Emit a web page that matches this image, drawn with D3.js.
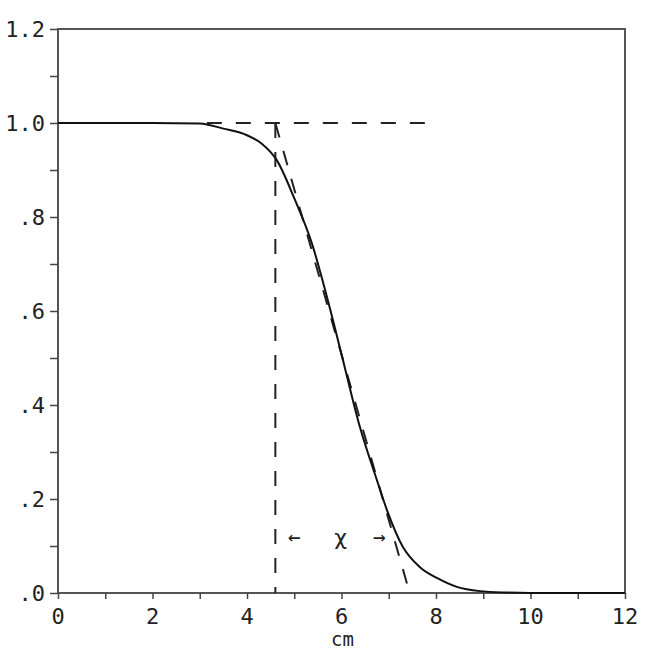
<!DOCTYPE html>
<html>
<head>
<meta charset="utf-8">
<script src="https://cdn.jsdelivr.net/npm/d3@7"></script>
<style>
html,body{margin:0;padding:0;background:#fff;}
svg{display:block;}
text{font-family:"DejaVu Sans Mono",monospace;fill:#222;}
</style>
</head>
<body>
<svg id="chart" width="649" height="658"></svg>
<script>
// Data
const curveX = [0, 1, 2, 3, 3.5, 4.0, 4.3, 4.63, 5.0, 5.37, 5.71, 6.03, 6.39, 6.75, 6.96, 7.3, 7.66, 8.02, 8.44, 8.93, 9.5, 10, 11, 12];
const curveY = [1, 1, 1, 0.999, 0.988, 0.974, 0.957, 0.921, 0.84, 0.745, 0.623, 0.496, 0.353, 0.24, 0.177, 0.098, 0.055, 0.032, 0.013, 0.004, 0.001, 0, 0, 0];
const xTicks = [0, 2, 4, 6, 8, 10, 12];
const xMinorTicks = [0,1,2,3,4,5,6,7,8,9,10,11,12];
const yTicks = [0, 0.2, 0.4, 0.6, 0.8, 1.0, 1.2];
const yTickLabels = [".0", ".2", ".4", ".6", ".8", "1.0", "1.2"];
const yMinorTicks = [0,0.1,0.2,0.3,0.4,0.5,0.6,0.7,0.8,0.9,1.0,1.1,1.2];
const plateauLine = {x: [3.15, 7.77], y: [1.0, 1.0]};
const edgeLine = {x: [4.6, 4.6], y: [1.0, 0.0]};
const tangentLine = {x: [4.6, 7.4], y: [1.0, 0.015]};
const chiLabel = {x1: 5.0, x: 5.98, x2: 6.8, y: 0.12, text: "χ"};
const xTitle = "cm";

const svg = d3.select("#chart");
const margin = {left: 58, right: 24, top: 29, bottom: 65};
const W = 649, H = 658;
const x = d3.scaleLinear().domain([0, 12]).range([margin.left, W - margin.right]);
const y = d3.scaleLinear().domain([0, 1.2]).range([H - margin.bottom, margin.top]);

// frame
svg.append("rect")
  .attr("x", x(0)).attr("y", y(1.2))
  .attr("width", x(12) - x(0)).attr("height", y(0) - y(1.2))
  .attr("fill", "none").attr("stroke", "#555").attr("stroke-width", 2);

// x axis ticks
const xAxis = d3.axisBottom(x).tickValues(xMinorTicks).tickSize(6).tickFormat("");
const gx = svg.append("g").attr("transform", `translate(0,${y(0)})`).call(xAxis);
gx.select(".domain").remove();
gx.selectAll("line").attr("stroke", "#444").attr("stroke-width", 1.5);
svg.append("g").selectAll("text").data(xTicks).join("text")
  .attr("x", d => x(d)).attr("y", y(0) + 31)
  .attr("text-anchor", "middle")
  .attr("font-size", 22)
  .text(d => d3.format("d")(d));

// y axis ticks
const yAxis = d3.axisLeft(y).tickValues(yMinorTicks).tickSize(8).tickFormat("");
const gy = svg.append("g").attr("transform", `translate(${x(0)},0)`).call(yAxis);
gy.select(".domain").remove();
gy.selectAll("line").attr("stroke", "#444").attr("stroke-width", 1.5);
svg.append("g").selectAll("text").data(yTicks).join("text")
  .attr("x", x(0) - 13).attr("y", d => y(d) + 8)
  .attr("text-anchor", "end")
  .attr("font-size", 22)
  .text((d, i) => yTickLabels[i]);

// x title
svg.append("text").attr("x", (x(0) + x(12)) / 2 + 1).attr("y", H - 12)
  .attr("text-anchor", "middle").attr("font-size", 19).text(xTitle);

// dashed lines
const lineGen = d3.line().x(d => x(d[0])).y(d => y(d[1]));
[plateauLine, edgeLine, tangentLine].forEach(l => {
  svg.append("path")
    .attr("d", lineGen(d3.zip(l.x, l.y)))
    .attr("fill", "none").attr("stroke", "#222").attr("stroke-width", 2)
    .attr("stroke-dasharray", "15,14");
});

// curve
svg.append("path")
  .attr("d", d3.line().x(d => x(d[0])).y(d => y(d[1])).curve(d3.curveMonotoneX)(d3.zip(curveX, curveY)))
  .attr("fill", "none").attr("stroke", "#111").attr("stroke-width", 2);

// chi annotation
svg.append("text").attr("x", x(chiLabel.x1)).attr("y", y(chiLabel.y) + 7)
  .attr("text-anchor", "middle").attr("font-size", 21).text("←");
svg.append("text").attr("x", x(chiLabel.x2)).attr("y", y(chiLabel.y) + 7)
  .attr("text-anchor", "middle").attr("font-size", 21).text("→");
svg.append("text").attr("x", x(chiLabel.x)).attr("y", y(chiLabel.y) + 8)
  .attr("text-anchor", "middle").attr("font-size", 22)
  .style("font-family", "DejaVu Sans").text(chiLabel.text);
</script>
</body>
</html>
